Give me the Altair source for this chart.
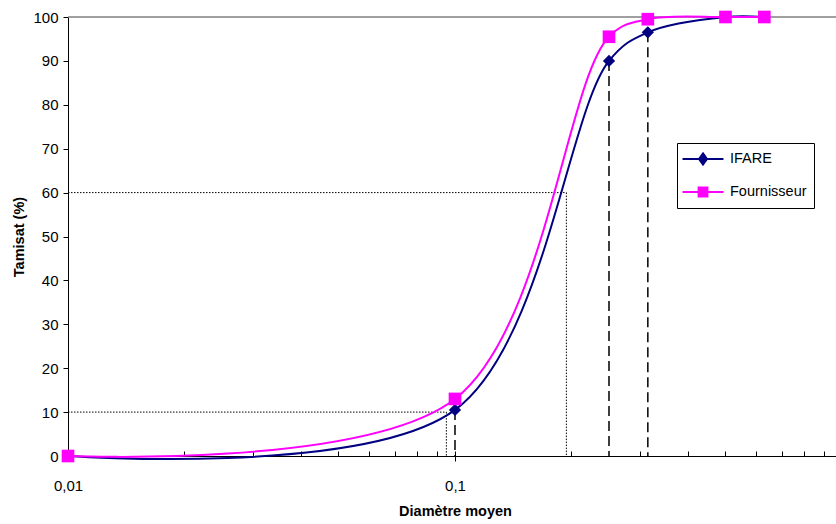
import altair as alt
import pandas as pd

# ---- data ----
sizes = [0.01, 0.1, 0.25, 0.315, 0.5, 0.63]          # Diamètre moyen
ifare = [0, 10.5, 90, 96.5, 100, 100]                 # Tamisat IFARE (%)
fournisseur = [0, 13, 95.5, 99.5, 100, 100]           # Tamisat Fournisseur (%)
series_names = ["IFARE", "Fournisseur"]
series_colors = ["#000080", "#FF00FF"]

# characteristic diameters (dotted guides)
d_values = [0.095, 0.194]
d_percent = [10, 60]
# sieves marked with dashed verticals (IFARE)
dashed_sizes = [0.1, 0.25, 0.315]

x_major = [0.01, 0.1, 1]
x_minor = [0.02, 0.03, 0.04, 0.05, 0.06, 0.07, 0.08, 0.09, 0.1,
           0.2, 0.3, 0.4, 0.5, 0.6, 0.7, 0.8, 0.9]
y_ticks = list(range(0, 101, 10))

# ---- tables ----
df_ifare = pd.DataFrame({"size": sizes, "pct": ifare})
df_four = pd.DataFrame({"size": sizes, "pct": fournisseur})
df_d = pd.DataFrame({"x0": [sizes[0]] * len(d_values), "d": d_values,
                     "p": d_percent, "base": [0] * len(d_values)})
df_dash = pd.DataFrame({"size": dashed_sizes,
                        "p": [ifare[sizes.index(s)] for s in dashed_sizes],
                        "base": [0] * len(dashed_sizes)})
df_leg = pd.DataFrame({"serie": series_names})

W, H = 768, 439
xscale = alt.Scale(type="log", domain=[0.01, 0.965], nice=False)
yscale = alt.Scale(domain=[0, 100], nice=False)

yaxis = alt.Axis(values=y_ticks, tickSize=5, tickColor="black", domainColor="black",
                 labelFontSize=15, labelPadding=5, labelColor="black",
                 title="Tamisat (%)", titleFontSize=14.5, titleFontWeight="bold",
                 titleColor="black", titlePadding=6, grid=False)

x_main_axis = alt.Axis(values=x_major, tickSize=5, tickColor="black", domainColor="black",
                       labelExpr="replace(format(datum.value, '~g'), '.', ',')",
                       labelFontSize=15, labelPadding=17, labelColor="black",
                       title="Diamètre moyen", titleFontSize=14.5, titleFontWeight="bold",
                       titleColor="black", titlePadding=11, titleX=387, grid=False,
                       labelFlush=False)

x_minor_axis = alt.Axis(orient="top", offset=-H, values=x_minor, tickSize=5,
                        tickColor="black", domain=False, labels=False, title=None,
                        grid=False)

Y = alt.Y("pct:Q", scale=yscale, axis=yaxis)

top_line = alt.Chart(df_leg).mark_rule(color="#808080", strokeWidth=1).encode(
    y=alt.datum(100, scale=yscale, axis=yaxis)
)

# dotted guides
d_h = alt.Chart(df_d).mark_rule(color="black", strokeWidth=1, strokeDash=[1.5, 1.5]).encode(
    x=alt.X("x0:Q", scale=xscale, axis=None), x2="d:Q",
    y=alt.Y("p:Q", scale=yscale, axis=yaxis)
)
d_v = alt.Chart(df_d).mark_rule(color="black", strokeWidth=1, strokeDash=[1.5, 1.5]).encode(
    x=alt.X("d:Q", scale=xscale, axis=None),
    y=alt.Y("p:Q", scale=yscale, axis=yaxis), y2="base:Q"
)
# dashed sieves
dash_v = alt.Chart(df_dash).mark_rule(color="black", strokeWidth=1.5, strokeDash=[10, 5]).encode(
    x=alt.X("size:Q", scale=xscale, axis=x_minor_axis),
    y=alt.Y("p:Q", scale=yscale, axis=yaxis), y2="base:Q"
)

line_ifare = alt.Chart(df_ifare).mark_line(
    color=series_colors[0], strokeWidth=2, interpolate="catmull-rom"
).encode(x=alt.X("size:Q", scale=xscale, axis=x_main_axis), y=Y)
pts_ifare = alt.Chart(df_ifare).mark_point(
    filled=True, shape="diamond", size=150, color=series_colors[0], opacity=1
).encode(x=alt.X("size:Q", scale=xscale, axis=None), y=Y)
line_four = alt.Chart(df_four).mark_line(
    color=series_colors[1], strokeWidth=2, interpolate="catmull-rom"
).encode(x=alt.X("size:Q", scale=xscale, axis=None), y=Y)
pts_four = alt.Chart(df_four).mark_point(
    filled=True, shape="square", size=160, color=series_colors[1], opacity=1
).encode(x=alt.X("size:Q", scale=xscale, axis=None), y=Y)

leg_shapes = [
    "M-2.56,0H2.56M0,-0.7L0.5,0L0,0.7L-0.5,0Z",
    "M-2.56,0H2.56M-0.55,-0.55H0.55V0.55H-0.55Z",
]
leg_scale_dom = alt.Scale(domain=series_names, range=series_colors)
legend_def = alt.Legend(
    title=None, orient="none", legendX=609, legendY=126, direction="vertical",
    strokeColor="black", fillColor="white", padding=7, rowPadding=14,
    labelFontSize=14.5, labelColor="black", symbolSize=256, symbolOffset=10,
    labelOffset=18, symbolStrokeWidth=2, symbolOpacity=1, labelLimit=200,
)
legend_layer = alt.Chart(df_leg).mark_point(filled=True, opacity=0).encode(
    fill=alt.Fill("serie:N", scale=leg_scale_dom, legend=legend_def, sort=series_names),
    stroke=alt.Stroke("serie:N", scale=leg_scale_dom, legend=legend_def, sort=series_names),
    shape=alt.Shape("serie:N", scale=alt.Scale(domain=series_names, range=leg_shapes),
                    legend=legend_def, sort=series_names),
)

chart = alt.layer(
    top_line, d_h, d_v, dash_v, line_ifare, pts_ifare, line_four, pts_four, legend_layer
).resolve_axis(x="independent").properties(
    width=W, height=H,
    padding={"left": 68, "top": 17, "right": 0, "bottom": 68},
    autosize=alt.AutoSizeParams(type="none"),
).configure(
    font="Liberation Sans"
).configure_view(stroke=None)

chart.save("out.html", embed_options={"renderer": "svg", "actions": False})
